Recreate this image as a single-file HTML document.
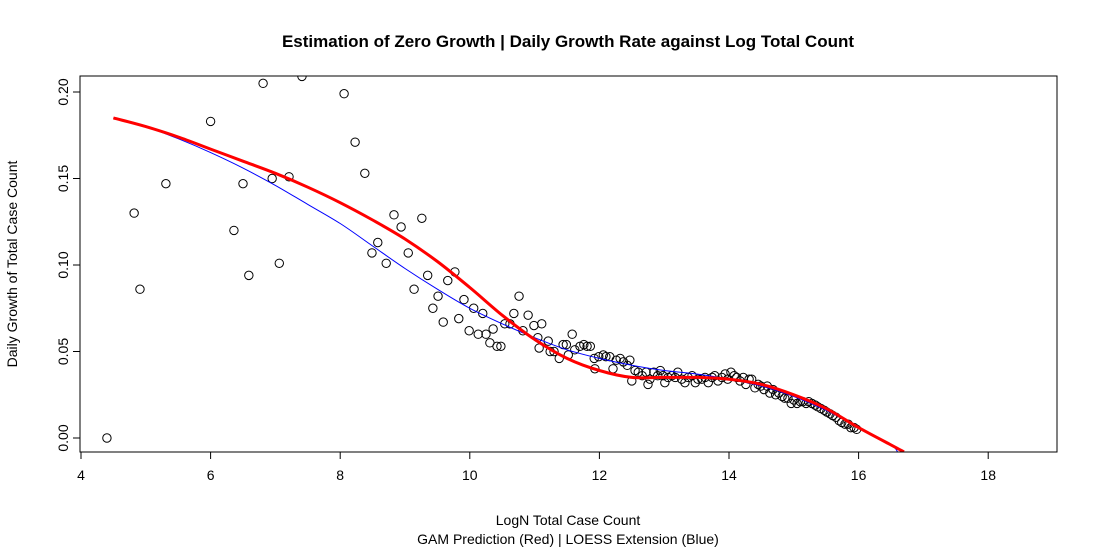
<!DOCTYPE html>
<html><head><meta charset="utf-8"><style>
body{margin:0;background:#fff}
svg{display:block;font-family:"Liberation Sans",sans-serif}
</style></head><body>
<svg id="chart" width="1098" height="550">
<text x="568" y="47" text-anchor="middle" font-weight="bold" font-size="17">Estimation of Zero Growth | Daily Growth Rate against Log Total Count</text>
<text x="568" y="525" text-anchor="middle" font-size="14">LogN Total Case Count</text>
<text x="568" y="544" text-anchor="middle" font-size="14">GAM Prediction (Red) | LOESS Extension (Blue)</text>
<text transform="translate(17,264) rotate(-90)" text-anchor="middle" font-size="14">Daily Growth of Total Case Count</text>
<defs><clipPath id="clip"><rect x="80" y="76" width="977" height="376"/></clipPath></defs>
<g id="axes"></g>
<g id="marks" clip-path="url(#clip)"></g>
<rect x="80" y="76" width="977" height="376" fill="none" stroke="#000" stroke-width="1"/>
</svg>
<script>
const xTicks=[4,6,8,10,12,14,16,18];
const yTicks=[0,0.05,0.10,0.15,0.20];
const yTickLabels=["0.00","0.05","0.10","0.15","0.20"];
const pointsX=[4.40,4.82,4.91,5.31,6.0,6.36,6.50,6.59,6.81,6.95,7.06,7.21,7.41,8.06,8.23,8.38,8.83,8.94,8.49,8.58,8.71,9.05,9.14,9.26,9.35,9.43,9.51,9.59,9.66,9.77,9.83,9.91,9.99,10.06,10.13,10.20,10.25,10.31,10.36,10.42,10.48,10.54,10.62,10.68,10.76,10.82,10.90,10.99,11.05,11.11,11.07,11.21,11.24,11.30,11.38,11.44,11.49,11.52,11.58,11.62,11.70,11.76,11.81,11.86,11.92,11.93,11.99,12.06,12.10,12.16,12.21,12.26,12.32,12.37,12.43,12.47,12.50,12.55,12.60,12.66,12.72,12.75,12.78,12.84,12.90,12.94,12.98,13.01,13.06,13.12,13.17,13.21,13.27,13.32,13.37,13.43,13.48,13.52,13.58,13.63,13.68,13.74,13.78,13.83,13.89,13.94,13.98,14.03,14.08,14.12,14.17,14.22,14.26,14.31,14.35,14.40,14.45,14.49,14.54,14.59,14.63,14.68,14.72,14.77,14.82,14.86,14.91,14.96,15.0,15.05,15.10,15.14,15.19,15.23,15.28,15.33,15.37,15.42,15.47,15.51,15.56,15.60,15.65,15.70,15.74,15.79,15.84,15.88,15.93,15.97];
const pointsY=[0.000,0.130,0.086,0.147,0.183,0.120,0.147,0.094,0.205,0.150,0.101,0.151,0.209,0.199,0.171,0.153,0.129,0.122,0.107,0.113,0.101,0.107,0.086,0.127,0.094,0.075,0.082,0.067,0.091,0.096,0.069,0.080,0.062,0.075,0.060,0.072,0.060,0.055,0.063,0.053,0.053,0.066,0.066,0.072,0.082,0.062,0.071,0.065,0.058,0.066,0.052,0.056,0.050,0.050,0.046,0.054,0.054,0.048,0.060,0.051,0.053,0.054,0.053,0.053,0.046,0.040,0.047,0.048,0.047,0.047,0.040,0.045,0.046,0.044,0.042,0.045,0.033,0.039,0.038,0.036,0.038,0.031,0.034,0.038,0.036,0.039,0.036,0.032,0.035,0.036,0.035,0.038,0.034,0.032,0.035,0.036,0.032,0.034,0.034,0.035,0.032,0.035,0.036,0.033,0.035,0.037,0.034,0.038,0.036,0.035,0.033,0.035,0.031,0.034,0.034,0.029,0.031,0.030,0.028,0.030,0.026,0.028,0.025,0.026,0.024,0.023,0.023,0.020,0.022,0.020,0.021,0.021,0.020,0.021,0.020,0.019,0.018,0.017,0.016,0.015,0.014,0.013,0.012,0.010,0.009,0.008,0.008,0.006,0.006,0.005];
const gamX=[4.5,5,5.5,6,6.5,7,7.5,8,8.5,9,9.5,10,10.5,11,11.5,12,12.5,13,13.5,14,14.5,15,15.5,16,16.5,16.7];
const gamY=[0.185,0.180,0.174,0.167,0.160,0.153,0.145,0.136,0.126,0.115,0.102,0.087,0.071,0.057,0.046,0.039,0.035,0.035,0.035,0.034,0.031,0.025,0.017,0.006,-0.004,-0.008];
const loessX=[4.5,5,5.5,6,6.5,7,7.5,8,8.5,9,9.5,10,10.5,11,11.5,12,12.5,13,13.5,14,14.5,15,15.5,16,16.5,16.6];
const loessY=[0.185,0.180,0.173,0.165,0.156,0.146,0.135,0.124,0.111,0.098,0.086,0.075,0.066,0.058,0.051,0.046,0.042,0.039,0.037,0.034,0.030,0.024,0.016,0.006,-0.004,-0.008];

const NS="http://www.w3.org/2000/svg";
const sx=v=>81+(v-4)*64.8;
const sy=v=>438-v*1730;
const axes=document.getElementById('axes');
const marks=document.getElementById('marks');
function mk(tag,attrs,parent){const e=document.createElementNS(NS,tag);for(const k in attrs)e.setAttribute(k,attrs[k]);parent.appendChild(e);return e;}

mk('line',{x1:sx(4),x2:sx(18),y1:452,y2:452,stroke:'#000'},axes);
xTicks.forEach(t=>{
  const l=mk('line',{x1:sx(t),x2:sx(t),y1:452,y2:459,stroke:'#000'},axes);
  
  
  const tx=mk('text',{x:sx(t),y:480,'text-anchor':'middle','font-size':14},axes);
  tx.textContent=t;
  
  
});
mk('line',{x1:80,x2:80,y1:sy(0),y2:sy(0.2),stroke:'#000'},axes);
yTicks.forEach((t,i)=>{
  const l=mk('line',{x1:73,x2:80,y1:sy(t),y2:sy(t),stroke:'#000'},axes);
  
  
  const tx=mk('text',{transform:`translate(68,${sy(t)}) rotate(-90)`,'text-anchor':'middle','font-size':14},axes);
  tx.textContent=yTickLabels[i];
  
  
});
pointsX.forEach((x,i)=>{
  const c=mk('circle',{cx:sx(x),cy:sy(pointsY[i]),r:4.2,fill:'none',stroke:'#000','stroke-width':1},marks);
  
  
});
function line(xs,ys,color,w){
  const P=xs.map((x,i)=>[sx(x),sy(ys[i])]);
  let d='M'+P[0][0].toFixed(1)+' '+P[0][1].toFixed(1);
  for(let i=0;i<P.length-1;i++){
    const p0=P[Math.max(0,i-1)],p1=P[i],p2=P[i+1],p3=P[Math.min(P.length-1,i+2)];
    const c1=[p1[0]+(p2[0]-p0[0])/6,p1[1]+(p2[1]-p0[1])/6];
    const c2=[p2[0]-(p3[0]-p1[0])/6,p2[1]-(p3[1]-p1[1])/6];
    d+=` C${c1[0].toFixed(1)} ${c1[1].toFixed(1)} ${c2[0].toFixed(1)} ${c2[1].toFixed(1)} ${p2[0].toFixed(1)} ${p2[1].toFixed(1)}`;
  }
  return mk('path',{d:d,fill:'none',stroke:color,'stroke-width':w,'stroke-linejoin':'round'},marks);
}
const lo=line(loessX,loessY,'#0000ff',1);


const ga=line(gamX,gamY,'#ff0000',3);


</script>
</body></html>
